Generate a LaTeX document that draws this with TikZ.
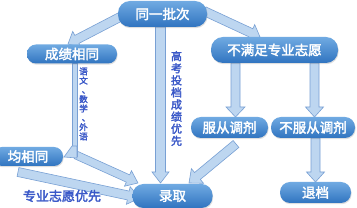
\documentclass[tikz,border=0pt]{standalone}
\usepackage{fontspec}
\newfontfamily\cjk{Noto Sans CJK SC}[AutoFakeBold=2.5]
\usetikzlibrary{calc,shadows}
\definecolor{arrfill}{RGB}{189,214,240}
\definecolor{arrline}{RGB}{120,160,212}
\definecolor{pilltop}{RGB}{112,170,226}
\definecolor{pillbot}{RGB}{48,116,192}
\definecolor{lbl}{RGB}{58,88,200}
\newcommand\vdun{\makebox[1em][l]{\hspace{0.3em}、}}
\tikzset{
  pill/.style={rectangle, top color=pilltop, bottom color=pillbot, draw=none,
    text=white, font=\cjk\bfseries\fontsize{13.5}{14}\selectfont, inner sep=0pt,
    drop shadow={shadow xshift=0.6pt, shadow yshift=-1.2pt, opacity=0.25}},
  blk/.style={fill=arrfill, draw=arrline, line width=0.6pt, line join=miter},
  lbltext/.style={text=lbl, inner sep=0pt, align=center}
}
\newcommand\blkarrow[5]{%
  \path ($(#2)!#5!(#1)$) coordinate (bac);
  \draw[blk] ($(#1)!#3!90:(#2)$) -- ($(bac)!#3!90:(#2)$) -- ($(bac)!#4!90:(#2)$) -- (#2)
    -- ($(bac)!#4!-90:(#2)$) -- ($(bac)!#3!-90:(#2)$) -- ($(#1)!#3!-90:(#2)$) -- cycle;}
\begin{document}
\begin{tikzpicture}[x=1pt,y=-1pt]
\useasboundingbox[fill=white] (0,0) rectangle (357,208);
% arrow end points
\coordinate (a1s) at (120,17);   \coordinate (a1t) at (68,44);
\coordinate (a2s) at (204,11);   \coordinate (a2t) at (260,37);
\coordinate (a3s) at (160.5,27); \coordinate (a3t) at (160.5,183);
\coordinate (a4s) at (235.5,63); \coordinate (a4t) at (235.5,117);
\coordinate (a5s) at (314.5,63); \coordinate (a5t) at (314.5,117);
\coordinate (a6s) at (236,144);  \coordinate (a6t) at (189,183);
\coordinate (a7s) at (315.5,138);\coordinate (a7t) at (315.5,182);
\coordinate (a8s) at (18,172);   \coordinate (a8t) at (140,198);
\coordinate (a9s) at (76,155);   \coordinate (a9t) at (138,183);
% arrows
\blkarrow{a1s}{a1t}{4.5pt}{9pt}{10pt}
\blkarrow{a2s}{a2t}{4.5pt}{9pt}{10pt}
\blkarrow{a3s}{a3t}{5pt}{8.5pt}{11pt}
\blkarrow{a4s}{a4t}{4.5pt}{9.5pt}{10pt}
\blkarrow{a5s}{a5t}{4.5pt}{9pt}{10pt}
\blkarrow{a6s}{a6t}{4.5pt}{9.5pt}{11pt}
\blkarrow{a7s}{a7t}{4.5pt}{9pt}{10pt}
\blkarrow{a8s}{a8t}{4.5pt}{9pt}{12pt}
\blkarrow{a9s}{a9t}{4pt}{8.5pt}{11pt}
\draw[blk] (72,63) rectangle (77,156);
\draw[blk] (72,146) -- (64,157) -- (77,158) -- (77,146) -- cycle;
% nodes
\node[pill, minimum width=89pt, minimum height=26pt, rounded corners=12pt] (n1) at (162.5,14) {同一批次};
\node[pill, minimum width=90pt, minimum height=19pt, rounded corners=9pt] (n2) at (72,54) {成绩相同};
\node[pill, minimum width=127pt, minimum height=26pt, rounded corners=12pt] (n3) at (274.5,50) {不满足专业志愿};
\node[pill, minimum width=77pt, minimum height=21pt, rounded corners=10pt] (n4) at (229.5,127.5) {服从调剂};
\node[pill, minimum width=84pt, minimum height=21pt, rounded corners=10pt] (n5) at (313,127.5) {不服从调剂};
\node[pill, minimum width=71pt, minimum height=21pt, rounded corners=10pt] (n6) at (315.5,192.5) {退档};
\node[pill, minimum width=70pt, minimum height=19pt, rounded corners=9pt] (n7) at (28,156.5) {均相同};
\node[pill, minimum width=80pt, minimum height=24pt, rounded corners=11pt] (n8) at (172.5,196) {录取};
% labels
\node[lbltext, font=\cjk\bfseries\fontsize{8.6}{9.3}\selectfont] (l1) at (83.5,104) {语\\文\\\vdun\\数\\学\\\vdun\\外\\语};
\node[lbltext, font=\cjk\bfseries\fontsize{11}{12.1}\selectfont] (l2) at (176.5,98.5) {高\\考\\投\\档\\成\\绩\\优\\先};
\node[lbltext, font=\cjk\bfseries\fontsize{13}{14}\selectfont] (l3) at (62,196) {专业志愿优先};
\end{tikzpicture}
\end{document}
